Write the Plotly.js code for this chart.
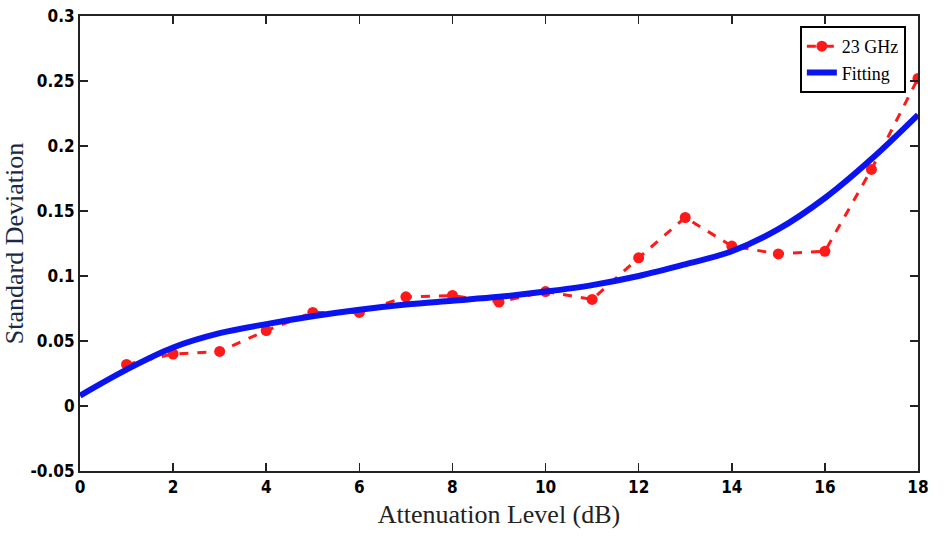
<!DOCTYPE html>
<html><head><meta charset="utf-8">
<script src="https://cdn.plot.ly/plotly-3.0.1.min.js"></script>
<style>body{margin:0;background:#fff}#plot{width:948px;height:538px}</style>
</head><body><div id="plot"></div>
<script>
const attenuation = [1,2,3,4,5,6,7,8,9,10,11,12,13,14,15,16,17,18];
const stdDev23GHz = [0.032,0.040,0.042,0.058,0.072,0.072,0.084,0.085,0.080,0.088,0.082,0.114,0.145,0.123,0.117,0.119,0.182,0.252];
const fitX = [0,1,2,3,4,5,6,7,8,9,10,11,12,13,14,15,16,17,18];
const fitY = [0.008,0.028,0.045,0.056,0.063,0.069,0.074,0.078,0.081,0.084,0.088,0.093,0.100,0.109,0.119,0.136,0.160,0.190,0.224];
const xTicks = [0,2,4,6,8,10,12,14,16,18];
const yTicks = [-0.05,0,0.05,0.1,0.15,0.2,0.25,0.3];
const yTickText = ['-0.05','0','0.05','0.1','0.15','0.2','0.25','0.3'];

const tickFont = {family:'"DejaVu Sans Condensed", "Liberation Sans Narrow", "Arial Narrow", sans-serif', size:17, color:'#000', weight:'bold'};
const serif = '"Liberation Serif", "Times New Roman", serif';

const traces = [
  {x: attenuation, y: stdDev23GHz, name:'23 GHz', mode:'lines+markers', type:'scatter',
   line:{color:'#ff1a1a', width:3, dash:'dash'},
   marker:{color:'#ff1a1a', size:11, symbol:'circle'}},
  {x: fitX, y: fitY, name:'Fitting', mode:'lines', type:'scatter', line:{color:'#0a14f0', width:6, shape:'spline'}}
];
const axisCommon = {showgrid:false, zeroline:false, showline:true, linecolor:'#222', linewidth:2,
  mirror:'ticks', ticks:'inside', ticklen:8, tickwidth:1.5, tickcolor:'#222', tickfont:tickFont};
const layout = {
  width:948, height:538, margin:{l:80, r:30, t:16, b:67},
  paper_bgcolor:'#fff', plot_bgcolor:'#fff', showlegend:true,
  xaxis: Object.assign({}, axisCommon, {range:[0,18], tickvals:xTicks, ticktext:xTicks.map(String),
    title:{text:'Attenuation Level (dB)', font:{family:serif, size:26, color:'#222'}, standoff:8}}),
  yaxis: Object.assign({}, axisCommon, {range:[-0.05,0.3], tickvals:yTicks, ticktext:yTickText,
    title:{text:'Standard Deviation', font:{family:serif, size:26, color:'#1b2a44'}, standoff:6}}),
  legend:{x:0.859, y:0.978, xanchor:'left', yanchor:'top', bordercolor:'#000', borderwidth:2,
    bgcolor:'#fff', font:{family:serif, size:18, color:'#000'}, tracegroupgap:0}
};
Plotly.newPlot('plot', traces, layout, {displayModeBar:false, staticPlot:true});
</script></body></html>
